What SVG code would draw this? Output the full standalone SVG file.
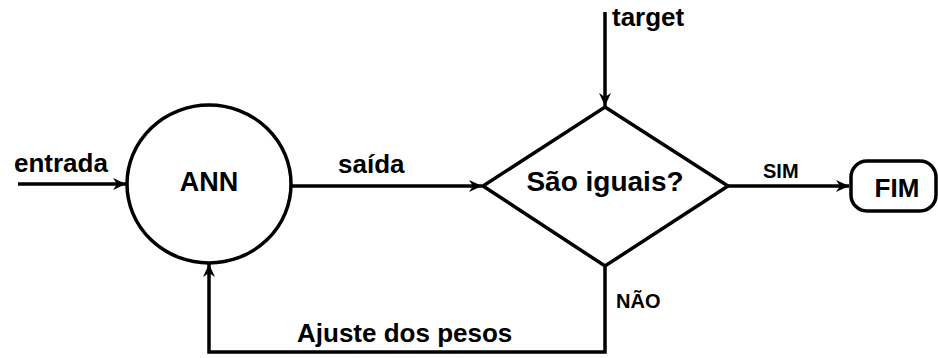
<svg xmlns="http://www.w3.org/2000/svg" width="938" height="358" viewBox="0 0 938 358">
<style>
.shape{fill:#fff;stroke:#000;stroke-width:3.5}
.line{fill:none;stroke:#000;stroke-width:3.5}
text{font-family:"Liberation Sans",Arial,sans-serif;font-weight:bold;fill:#000}
</style>
<defs>
<marker id="arr" markerUnits="userSpaceOnUse" markerWidth="14" markerHeight="14" viewBox="0 0 14 14" refX="13" refY="7" orient="auto">
<path d="M0,1 L13,7 L0,13 L4,7 z" fill="#000"/>
</marker>
</defs>
<rect width="938" height="358" fill="#fff"/>
<g id="connectors">
<line class="line" x1="18" y1="184" x2="126" y2="184" marker-end="url(#arr)"/>
<line class="line" x1="291" y1="186" x2="482" y2="186" marker-end="url(#arr)"/>
<line class="line" x1="605" y1="12" x2="605" y2="106" marker-end="url(#arr)"/>
<line class="line" x1="728" y1="186" x2="849" y2="186" marker-end="url(#arr)"/>
<polyline class="line" points="605,266 605,352 209,352 209,264" marker-end="url(#arr)"/>
<text x="14" y="172" font-size="26">entrada</text>
<text x="338" y="173" font-size="26">saída</text>
<text x="612" y="26" font-size="26">target</text>
<text x="763" y="178" font-size="20">SIM</text>
<text x="616" y="308" font-size="20">NÃO</text>
<text x="297" y="342" font-size="26">Ajuste dos pesos</text>
</g>
<g id="ann">
<ellipse class="shape" cx="209" cy="184" rx="82" ry="79"/>
<text x="209" y="191" font-size="27" text-anchor="middle">ANN</text>
</g>
<g id="decisao">
<polygon class="shape" points="605,107 728,186 605,266 483,186"/>
<text x="605" y="191" font-size="28" text-anchor="middle">São iguais?</text>
</g>
<g id="fim">
<rect class="shape" x="851" y="161" width="85" height="50" rx="16"/>
<text x="897" y="197" font-size="26" text-anchor="middle">FIM</text>
</g>
</svg>
